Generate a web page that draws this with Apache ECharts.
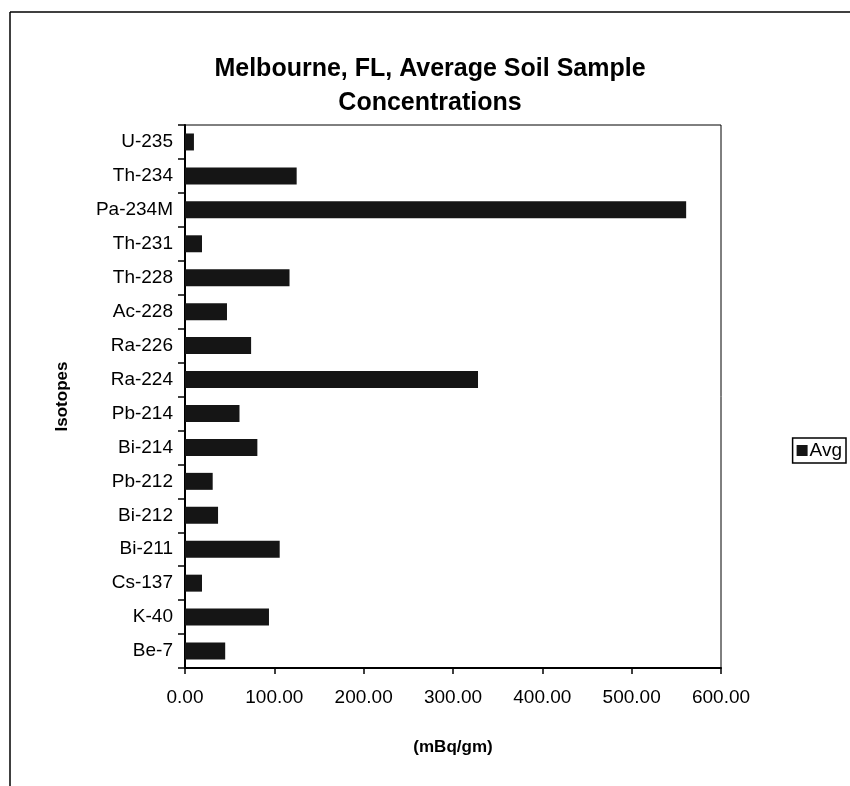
<!DOCTYPE html>
<html><head><meta charset="utf-8">
<script src="https://cdn.jsdelivr.net/npm/echarts@6/dist/echarts.min.js"></script>
<style>html,body{margin:0;padding:0;background:#fff}#c{width:850px;height:786px}</style>
</head><body><div id="c"></div>
<script>
const categories = ["Be-7","K-40","Cs-137","Bi-211","Bi-212","Pb-212","Bi-214","Pb-214","Ra-224","Ra-226","Ac-228","Th-228","Th-231","Pa-234M","Th-234","U-235"];
const avgValues = [45, 94, 19, 106, 37, 31, 81, 61, 328, 74, 47, 117, 19, 561, 125, 10];
const xTicks = [0, 100, 200, 300, 400, 500, 600];

const chart = echarts.init(document.getElementById('c'));
const F = '"Liberation Sans", Arial, sans-serif';
chart.setOption({
  animation: false,
  backgroundColor: '#fff',
  title: {
    text: 'Melbourne, FL, Average Soil Sample\nConcentrations',
    left: 425, top: 47, textAlign: 'center',
    textStyle: { fontFamily: F, fontSize: 25, fontWeight: 'bold', color: '#000', lineHeight: 34 }
  },
  legend: {
    data: [{ name: 'Avg', icon: 'rect' }], right: 4, top: 438, orient: 'vertical',
    borderColor: '#000', borderWidth: 1.5, padding: [3, 4, 3, 4],
    itemWidth: 11, itemHeight: 11, itemGap: 4,
    textStyle: { fontFamily: F, fontSize: 19, color: '#000', padding: [0, 0, 0, -3] }
  },
  grid: { left: 185, right: 129, top: 125, height: 543, containLabel: false, show: true, borderColor: '#000', borderWidth: 1 },
  xAxis: {
    type: 'value', min: xTicks[0], max: xTicks[xTicks.length - 1], interval: 100,
    name: '(mBq/gm)', nameLocation: 'middle', nameGap: 71,
    nameTextStyle: { fontFamily: F, fontSize: 17, fontWeight: 'bold', color: '#000' },
    axisLine: { show: true, lineStyle: { color: '#000', width: 2 } },
    axisTick: { show: true, inside: false, length: 6, lineStyle: { color: '#000', width: 1.5 } },
    axisLabel: { fontFamily: F, fontSize: 19, color: '#000', margin: 20, formatter: v => v.toFixed(2) },
    splitLine: { show: false }
  },
  yAxis: {
    type: 'category', data: categories,
    name: 'Isotopes', nameLocation: 'middle', nameGap: 114, nameRotate: 90,
    nameTextStyle: { fontFamily: F, fontSize: 17, fontWeight: 'bold', color: '#000' },
    axisLine: { show: true, lineStyle: { color: '#000', width: 2 } },
    axisTick: { show: true, length: 7, lineStyle: { color: '#000', width: 1.5 } },
    axisLabel: { fontFamily: F, fontSize: 19, color: '#000', margin: 12 }
  },
  series: [{
    name: 'Avg', type: 'bar', data: avgValues,
    barCategoryGap: '50%',
    itemStyle: { color: '#151515' }
  }],
  graphic: [
    { type: 'line', shape: { x1: 10, y1: 12, x2: 850, y2: 12 }, style: { stroke: '#000', lineWidth: 1.5 } },
    { type: 'line', shape: { x1: 10, y1: 12, x2: 10, y2: 786 }, style: { stroke: '#000', lineWidth: 1.5 } }
  ]
});
</script></body></html>
